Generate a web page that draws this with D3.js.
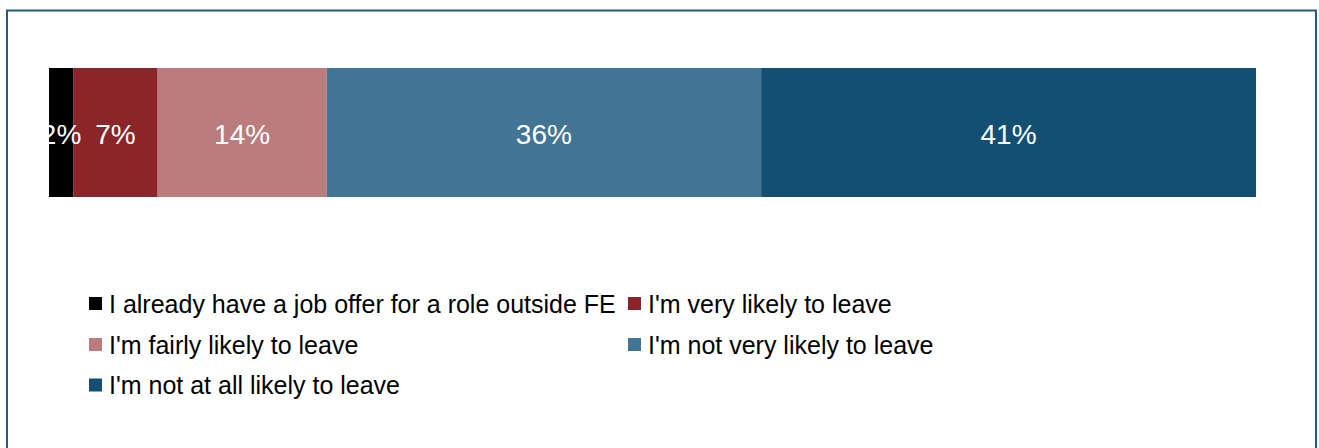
<!DOCTYPE html>
<html>
<head>
<meta charset="utf-8">
<script src="https://cdn.jsdelivr.net/npm/d3@7"></script>
<style>
  html, body { margin: 0; padding: 0; background: #fff; }
  svg { display: block; }
  text { font-family: "Liberation Sans", Arial, sans-serif; }
</style>
</head>
<body>
<svg id="chart" width="1319" height="448"></svg>
<script>
const categories = [
  "I already have a job offer for a role outside FE",
  "I'm very likely to leave",
  "I'm fairly likely to leave",
  "I'm not very likely to leave",
  "I'm not at all likely to leave"
];
const values = [2, 7, 14, 36, 41];
const colors = ["#000000", "#8a2529", "#ba7c7d", "#427594", "#124f73"];

const svg = d3.select("#chart");

// frame
svg.append("rect")
  .attr("x", 7).attr("y", 10.5)
  .attr("width", 1309).attr("height", 460)
  .attr("fill", "none")
  .attr("stroke", "#225a80")
  .attr("stroke-width", 2);

const x = d3.scaleLinear().domain([0, d3.sum(values)]).range([49, 1256]);
const y = d3.scaleBand().domain(["all"]).range([68, 197]).padding(0);

let acc = 0;
const segs = values.map((v, i) => {
  const s = { cat: categories[i], v, start: acc, end: acc + v, color: colors[i] };
  acc += v;
  return s;
});

const g = svg.append("g");
g.selectAll("rect.seg").data(segs).join("rect")
  .attr("class", "seg")
  .attr("x", d => x(d.start))
  .attr("width", d => x(d.end) - x(d.start))
  .attr("y", y("all"))
  .attr("height", y.bandwidth())
  .attr("fill", d => d.color);

g.selectAll("text.lbl").data(segs).join("text")
  .attr("class", "lbl")
  .attr("x", d => (x(d.start) + x(d.end)) / 2)
  .attr("y", y("all") + y.bandwidth() / 2 + 1)
  .attr("dy", "0.36em")
  .attr("text-anchor", "middle")
  .attr("fill", "#ffffff")
  .attr("font-size", 28)
  .text(d => d.v + "%");

// legend
const colX = [89, 628];
const rowY = [303.5, 344.5, 385];
const leg = svg.append("g");
const items = leg.selectAll("g.item").data(segs).join("g")
  .attr("class", "item")
  .attr("transform", (d, i) => `translate(${colX[i % 2]},${rowY[Math.floor(i / 2)]})`);
items.append("rect")
  .attr("x", 0).attr("y", -6.5)
  .attr("width", 13).attr("height", 13)
  .attr("fill", d => d.color);
items.append("text")
  .attr("x", 20)
  .attr("y", 0)
  .attr("dy", "0.36em")
  .attr("font-size", 25)
  .attr("fill", "#000")
  .text(d => d.cat);
</script>
</body>
</html>
